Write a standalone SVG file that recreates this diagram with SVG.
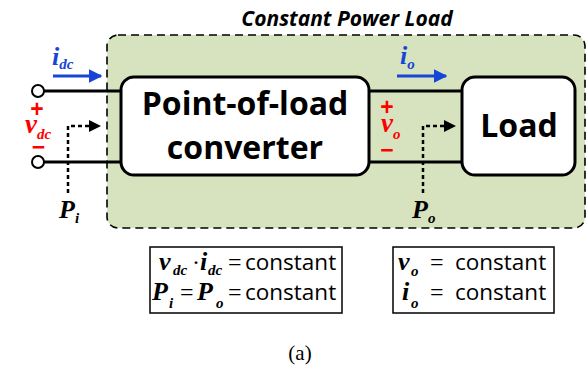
<svg xmlns="http://www.w3.org/2000/svg" width="587" height="370" viewBox="0 0 587 370">
  <defs>
    <style>
      .wire { stroke: #000; stroke-width: 3; fill: none; }
      .block { fill: #fff; stroke: #000; stroke-width: 3; }
      .blocktxt { font-family: "Open Sans", "Liberation Sans", sans-serif; font-weight: 700; font-size: 32px; fill: #000; }
      .title { font-family: "Open Sans", "Liberation Sans", sans-serif; font-weight: 700; font-style: italic; font-size: 21px; fill: #000; }
      .math { font-family: "Liberation Serif", "Times New Roman", serif; font-weight: 700; font-style: italic; }
      .sign { font-family: "Liberation Sans", sans-serif; font-size: 23px; fill: #ff0000; text-anchor: middle; }
      .dot { stroke: #000; stroke-width: 2.5; stroke-dasharray: 4 3; fill: none; }
      .cur { stroke: #1646d6; stroke-width: 3; fill: none; }
      .eq { font-family: "Open Sans", "Liberation Sans", sans-serif; font-size: 22.5px; fill: #000; }
      .eqs { font-family: "Liberation Serif", serif; font-size: 24px; fill: #000; }
      .m { font-size: 26px; }
      .s { font-size: 15px; }
    </style>
    <marker id="blueHead" viewBox="0 0 10 10" refX="9" refY="5" markerWidth="4.5" markerHeight="4.5" orient="auto" markerUnits="strokeWidth">
      <path d="M0,0 L10,5 L0,10 z" fill="#1646d6"/>
    </marker>
  </defs>

  <rect width="587" height="370" fill="#fff"/>

  <!-- constant power load region -->
  <g id="cpl-region">
    <rect x="107" y="35" width="478" height="193" rx="11" fill="#d7e3bf" stroke="#000" stroke-width="1.6" stroke-dasharray="8 5"/>
    <text class="title" x="347" y="26" text-anchor="middle">Constant Power Load</text>
  </g>

  <!-- connectors -->
  <g id="connectors">
    <line class="wire" x1="44" y1="91" x2="122" y2="91"/>
    <line class="wire" x1="44" y1="162" x2="122" y2="162"/>
    <line class="wire" x1="368" y1="91" x2="463" y2="91"/>
    <line class="wire" x1="368" y1="162" x2="463" y2="162"/>
    <line class="cur" x1="53" y1="76" x2="101" y2="76" marker-end="url(#blueHead)"/>
    <line class="cur" x1="397" y1="76" x2="446" y2="76" marker-end="url(#blueHead)"/>
    <path class="dot" d="M68,193 V126 H91"/>
    <path d="M89,120 L101,126 L89,132 z" fill="#000"/>
    <path class="dot" d="M423,193 V126 H446"/>
    <path d="M444,120 L456,126 L444,132 z" fill="#000"/>
  </g>

  <!-- input terminals -->
  <g id="terminals">
    <circle cx="38" cy="91" r="6" fill="#fff" stroke="#000" stroke-width="2"/>
    <circle cx="38" cy="162" r="6" fill="#fff" stroke="#000" stroke-width="2"/>
  </g>

  <g id="converter">
    <rect class="block" x="121" y="77" width="248" height="98" rx="13"/>
    <text class="blocktxt" x="245" y="115" text-anchor="middle">Point-of-load</text>
    <text class="blocktxt" x="245" y="159" text-anchor="middle">converter</text>
  </g>

  <g id="load">
    <rect class="block" x="462" y="77" width="113" height="98" rx="13"/>
    <text class="blocktxt" x="519" y="137" text-anchor="middle">Load</text>
  </g>

  <!-- input side labels -->
  <g id="input-labels">
    <text class="math" x="52" y="65" font-size="26" fill="#1646d6">i<tspan class="s" dy="4">dc</tspan></text>
    <text class="sign" x="37" y="117" font-weight="700">+</text>
    <text class="math" x="25" y="133" font-size="27" fill="#ff0000">v<tspan class="s" dy="6">dc</tspan></text>
    <text class="sign" x="38.5" y="155" font-weight="700">−</text>
    <text class="math" x="59" y="218" font-size="26" fill="#000">P<tspan class="s" dy="5">i</tspan></text>
  </g>

  <!-- output side labels -->
  <g id="output-labels">
    <text class="math" x="400" y="64" font-size="26" fill="#1646d6">i<tspan class="s" dy="5">o</tspan></text>
    <text class="sign" x="387" y="115" font-weight="700">+</text>
    <text class="math" x="381" y="132" font-size="27" fill="#ff0000">v<tspan class="s" dy="7">o</tspan></text>
    <text class="sign" x="387" y="158" font-weight="700">−</text>
    <text class="math" x="412" y="218" font-size="26" fill="#000">P<tspan class="s" dy="5">o</tspan></text>
  </g>

  <!-- constraint boxes -->
  <g id="power-constraint">
    <rect x="150" y="247" width="192" height="66" fill="#fff" stroke="#000" stroke-width="1.5"/>
    <text y="270"><tspan class="math m" x="159">v</tspan><tspan class="math s" x="173" dy="5">dc</tspan><tspan class="eqs" x="192" dy="-5">·</tspan><tspan class="math m" x="200">i</tspan><tspan class="math s" x="208" dy="5">dc</tspan><tspan class="eqs" x="228" dy="-5">=</tspan><tspan class="eq" x="245">constant</tspan></text>
    <text y="300"><tspan class="math m" x="152">P</tspan><tspan class="math s" x="169" dy="8">i</tspan><tspan class="eqs" x="180" dy="-8">=</tspan><tspan class="math m" x="197">P</tspan><tspan class="math s" x="216" dy="8">o</tspan><tspan class="eqs" x="228" dy="-8">=</tspan><tspan class="eq" x="245">constant</tspan></text>
  </g>

  <g id="output-constraint">
    <rect x="393" y="247" width="161" height="66" fill="#fff" stroke="#000" stroke-width="1.5"/>
    <text y="270"><tspan class="math m" x="398">v</tspan><tspan class="math s" x="411" dy="6">o</tspan><tspan class="eqs" x="430" dy="-6">=</tspan><tspan class="eq" x="455">constant</tspan></text>
    <text y="300"><tspan class="math m" x="402">i</tspan><tspan class="math s" x="411" dy="8">o</tspan><tspan class="eqs" x="430" dy="-8">=</tspan><tspan class="eq" x="455">constant</tspan></text>
  </g>

  <text x="300" y="360" font-family="Liberation Serif, serif" font-size="21" text-anchor="middle" fill="#000">(a)</text>
</svg>
